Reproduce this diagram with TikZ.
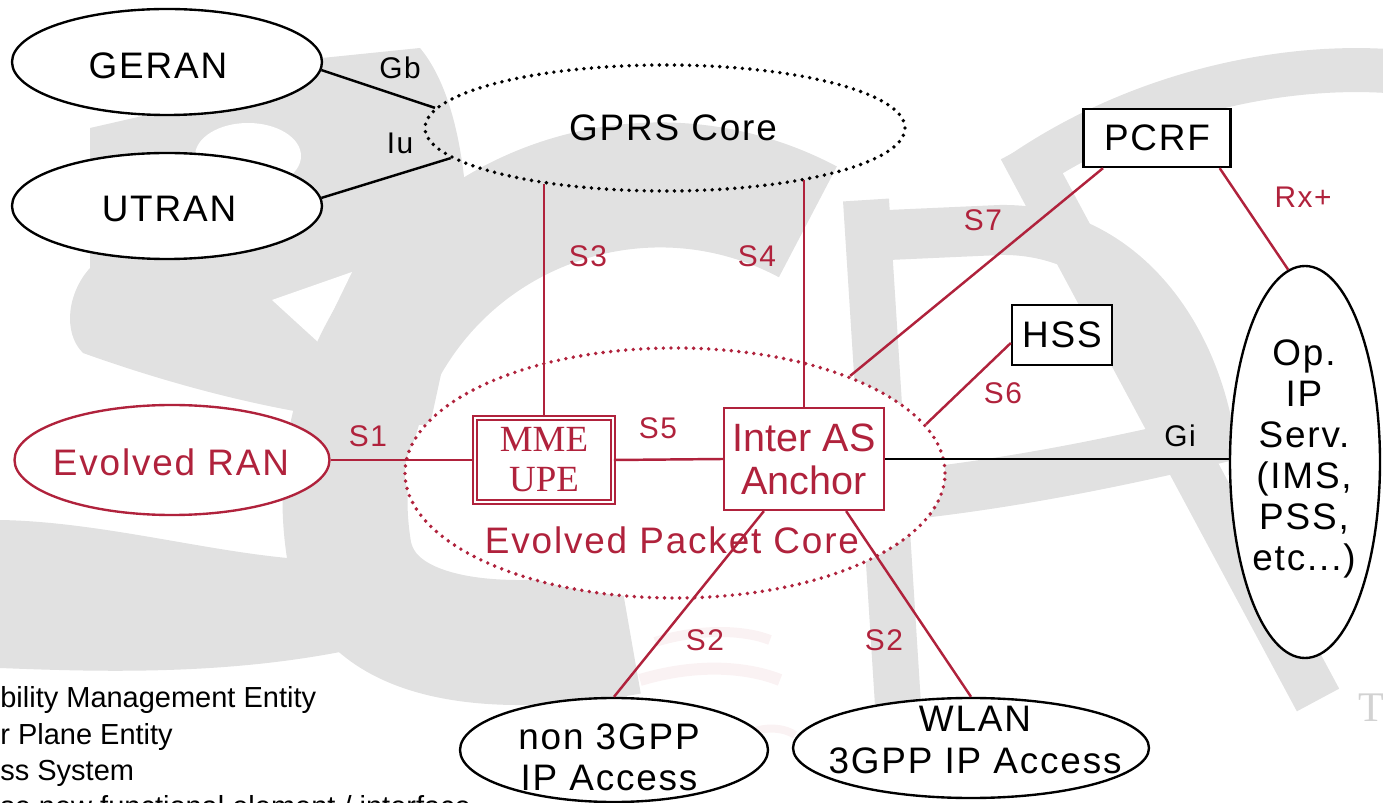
\documentclass[tikz,border=0pt]{standalone}
\usepackage{fontspec}
\setmainfont{Liberation Sans}
\newfontfamily\lsans{Liberation Sans}[LetterSpace=5]
\newfontfamily\lserif{Liberation Serif}
\usetikzlibrary{shapes.geometric}
\definecolor{epcred}{RGB}{176,34,60}
\definecolor{wmgrey}{RGB}{225,225,225}
\newdimen\pxu \pxu=0.02cm
\begin{document}
\begin{tikzpicture}[x=0.02cm,y=-0.02cm,
  bigtxt/.style={font=\lsans\fontsize{21}{23.4}\selectfont, inner sep=0pt, align=center},
  lbl/.style={font=\lsans\fontsize{17}{20}\selectfont, inner sep=0pt},
  oval/.style={ellipse, draw, line width=1.35pt, fill=white, inner sep=0pt},
  box/.style={rectangle, draw, line width=1.35pt, fill=white, inner sep=0pt, bigtxt},
  dots/.style={line width=2.2pt, dash pattern=on 0pt off 4.3pt, line cap=round},
  link/.style={line width=1.4pt},
  rlink/.style={line width=1.4pt, draw=epcred},
  wm/.style={wmgrey},
  swoosh/.style={epcred!6},
  legend/.style={font=\fontsize{16.5}{19}\selectfont, anchor=base west, inner sep=0pt},
]
\useasboundingbox (0,0) rectangle (1383,803);

% background logo
\fill[wm] (90,128) -- (160,112) -- (322,58) -- (420,48)
  .. controls (455,90) and (468,170) .. (468,250) -- (430,425)
  .. controls (330,425) and (200,395) .. (83,353)
  .. controls (62,332) and (68,292) .. (90,268) -- cycle;
\fill[white] (248,156) ellipse [x radius=53, y radius=33];
\fill[white] (272,300) -- (352,272) -- (318,342) -- cycle;
\draw[wm, line width=125\pxu] (660,500) ++(-62:315)
  arc[start angle=-62, end angle=-190, radius=315]
  .. controls (370,645) and (500,655) .. (630,632);
\fill[wm] (0,520) .. controls (120,522) and (250,565) .. (350,560)
  -- (340,652) .. controls (220,675) and (100,672) .. (0,668) -- cycle;
\draw[wm, line width=46\pxu] (866,200) -- (898,705);
\draw[wm, line width=50\pxu] (866,236) -- (1000,230)
  .. controls (1110,228) and (1190,320) .. (1210,440)
  .. controls (1100,466) and (1000,485) .. (895,496);
\draw[wm, line width=48\pxu] (1022,148) -- (1318,700);
\draw[wm, line width=44\pxu] (1015,178) .. controls (1140,90) and (1290,62) .. (1400,72);
\draw[swoosh, line width=10\pxu] (655,642) .. controls (700,628) and (745,630) .. (770,640);
\draw[swoosh, line width=12\pxu] (640,680) .. controls (700,662) and (750,668) .. (780,680);
\draw[swoosh, line width=8\pxu] (745,735) .. controls (765,725) and (785,728) .. (795,735);
\node[text=gray!35, font=\lserif\fontsize{24}{24}\selectfont, anchor=west, inner sep=0pt] (tmark) at (1358,708) {T};

% network elements
\node[oval, minimum width=310\pxu, minimum height=106\pxu] (geran) at (167,62) {};
\node[oval, minimum width=310\pxu, minimum height=106\pxu] (utran) at (167,206) {};
\node[ellipse, draw, dots, inner sep=0pt, minimum width=480\pxu, minimum height=126\pxu] (gprs) at (665,128) {};
\node[ellipse, draw=epcred, dots, fill=white, inner sep=0pt, minimum width=540\pxu, minimum height=250\pxu] (epc) at (675,473) {};
\node[oval, draw=epcred, minimum width=315\pxu, minimum height=110\pxu] (evran) at (172,460) {};
\node[oval, minimum width=150\pxu, minimum height=392\pxu] (opip) at (1305,462) {};
\node[oval, minimum width=308\pxu, minimum height=104\pxu] (non3gpp) at (614,750) {};
\node[oval, minimum width=356\pxu, minimum height=100\pxu] (wlan) at (971,748) {};
\node[box, minimum width=147\pxu, minimum height=58\pxu] (pcrf) at (1157,138) {PCRF};
\node[box, minimum width=100\pxu, minimum height=60\pxu] (hss) at (1062,335) {HSS};
\node[rectangle, draw=epcred, double=white, double distance=1.5pt, line width=0.9pt, fill=white,
  inner sep=0pt, minimum width=138\pxu, minimum height=84\pxu, text=epcred,
  font=\lserif\fontsize{21}{22.7}\selectfont, align=center] (mme) at (544,460) {MME\\UPE};
\node[rectangle, draw=epcred, line width=1.3pt, fill=white, inner sep=0pt,
  minimum width=160\pxu, minimum height=102\pxu, text=epcred,
  font=\fontsize{22.5}{24.4}\selectfont, align=center] (anchor) at (804,459) {Inter AS\\Anchor};

% texts inside the ovals
\node[bigtxt] (geranT) at (158,66) {GERAN};
\node[bigtxt] (utranT) at (169,209) {UTRAN};
\node[bigtxt] (gprsT) at (673,128) {GPRS Core};
\node[bigtxt, text=epcred] (evranT) at (171,462) {Evolved RAN};
\node[bigtxt, text=epcred] (epcT) at (672,540) {Evolved Packet Core};
\node[bigtxt] (opipT) at (1304,459) {Op.\\IP\\Serv.\\(IMS,\\PSS,\\etc...)};
\node[bigtxt] (non3gppT) at (609,757) {non 3GPP\\IP Access};
\node[bigtxt] (wlanT) at (975,740) {WLAN\\3GPP IP Access};

% interfaces
\draw[link] (geran.-3) -- (gprs.175);
\draw[link] (utran.3) -- (gprs.188);
\draw[rlink] (mme.north) -- (mme.north |- gprs.205);
\draw[rlink] (anchor.north) -- (anchor.north |- gprs.340);
\draw[rlink] (evran.east) -- (mme.west);
\draw[rlink] (mme.east) -- (anchor.west);
\draw[link] (anchor.east) -- (anchor.east -| opip.west);
\draw[rlink] (epc.29.5) -- ([xshift=-54\pxu]pcrf.south);
\draw[rlink] (epc.11.5) -- ([yshift=-8\pxu]hss.west);
\draw[rlink] ([xshift=-12\pxu]pcrf.south east) -- (opip.95);
\draw[rlink] ([xshift=41\pxu]anchor.south west) -- (non3gpp.north);
\draw[rlink] ([xshift=-39\pxu]anchor.south east) -- (wlan.north);

% interface names
\node[lbl] (gb) at (400,68) {Gb};
\node[lbl] (iu) at (400,143) {Iu};
\node[lbl, text=epcred] (s3) at (588,256) {S3};
\node[lbl, text=epcred] (s4) at (757,256) {S4};
\node[lbl, text=epcred] (s7) at (983,220) {S7};
\node[lbl, text=epcred] (s6) at (1003,393) {S6};
\node[lbl, text=epcred] (rx) at (1303,197) {Rx+};
\node[lbl, text=epcred] (s1) at (368,436) {S1};
\node[lbl, text=epcred] (s5) at (658,428) {S5};
\node[lbl] (gi) at (1180,436) {Gi};
\node[lbl, text=epcred] (s2a) at (705,640) {S2};
\node[lbl, text=epcred] (s2b) at (884,640) {S2};

% abbreviations
\node[legend] (lg1) at (0,707) {bility Management Entity};
\node[legend] (lg2) at (0,744) {r Plane Entity};
\node[legend] (lg3) at (0,780) {ss System};
\node[legend] (lg4) at (0,816) {se new functional element / interface};
\end{tikzpicture}
\end{document}
